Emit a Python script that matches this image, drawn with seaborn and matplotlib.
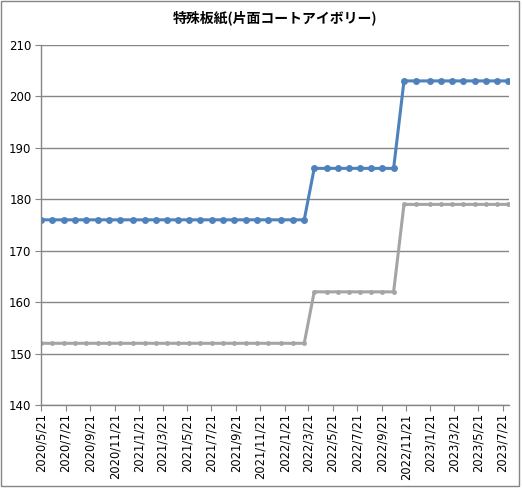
import matplotlib
matplotlib.use("Agg")
import matplotlib.pyplot as plt
import matplotlib.dates as mdates
import seaborn as sns
import pandas as pd

# survey dates
dates = ["2020-05-21", "2020-06-18", "2020-07-16", "2020-08-14", "2020-09-11",
         "2020-10-09", "2020-11-06", "2020-12-04", "2021-01-07", "2021-02-04",
         "2021-03-04", "2021-04-01", "2021-04-29", "2021-05-27", "2021-06-24",
         "2021-07-22", "2021-08-19", "2021-09-16", "2021-10-15", "2021-11-12",
         "2021-12-10", "2022-01-12", "2022-02-11", "2022-03-11", "2022-04-05",
         "2022-05-07", "2022-06-04", "2022-07-02", "2022-07-29", "2022-08-26",
         "2022-09-23", "2022-10-21", "2022-11-16", "2022-12-16", "2023-01-20",
         "2023-02-17", "2023-03-17", "2023-04-14", "2023-05-12", "2023-06-09",
         "2023-07-07", "2023-08-04"]
blue_vals = [176] * 24 + [186] * 8 + [203] * 10
gray_vals = [152] * 24 + [162] * 8 + [179] * 10
tick_dates = pd.date_range("2020-05-01", "2023-07-01", freq="2MS") + pd.Timedelta(days=20)

df = pd.DataFrame({"date": pd.to_datetime(dates), "blue": blue_vals, "gray": gray_vals})

sns.set_style("white")
fig, ax = plt.subplots(figsize=(5.22, 4.88), dpi=100)
fig.subplots_adjust(left=0.079, right=0.975, top=0.908, bottom=0.17)

sns.lineplot(data=df, x="date", y="blue", ax=ax, color="#4F81BD", linewidth=2.2,
             marker="o", markersize=5, markeredgewidth=0)
sns.lineplot(data=df, x="date", y="gray", ax=ax, color="#A5A5A5", linewidth=2.2,
             marker="o", markersize=3.5, markeredgewidth=0)

ax.set_ylim(140, 210)
ax.set_yticks(range(140, 211, 10))
ax.set_xlim(pd.Timestamp("2020-05-21"), pd.Timestamp("2023-08-06"))
ax.set_xticks(tick_dates)
ax.xaxis.set_major_formatter(mdates.DateFormatter("%Y/%-m/%-d"))
ax.tick_params(axis="x", rotation=90, labelsize=8.3, length=4, color="#868686",
               labelcolor="black", pad=2)
ax.tick_params(axis="y", labelsize=8.5, length=4, color="#868686",
               labelcolor="black", pad=3)
ax.tick_params(bottom=True, left=True)
ax.grid(axis="y", color="#868686", linewidth=1)
ax.set_axisbelow(True)
for s in ["top", "right"]:
    ax.spines[s].set_visible(False)
for s in ["left", "bottom"]:
    ax.spines[s].set_color("#868686")
    ax.spines[s].set_linewidth(1)
ax.set_xlabel("")
ax.set_ylabel("")
ax.set_title("特殊板紙(片面コートアイボリー)", fontsize=10, fontweight="bold",
             color="black", family=["Noto Sans CJK JP", "DejaVu Sans"], pad=16)

fig.patches.append(plt.Rectangle((0.002, 0.004), 0.993, 0.993, transform=fig.transFigure,
                                 fill=False, edgecolor="#868686", linewidth=1))

fig.savefig("out.png", dpi=100)
